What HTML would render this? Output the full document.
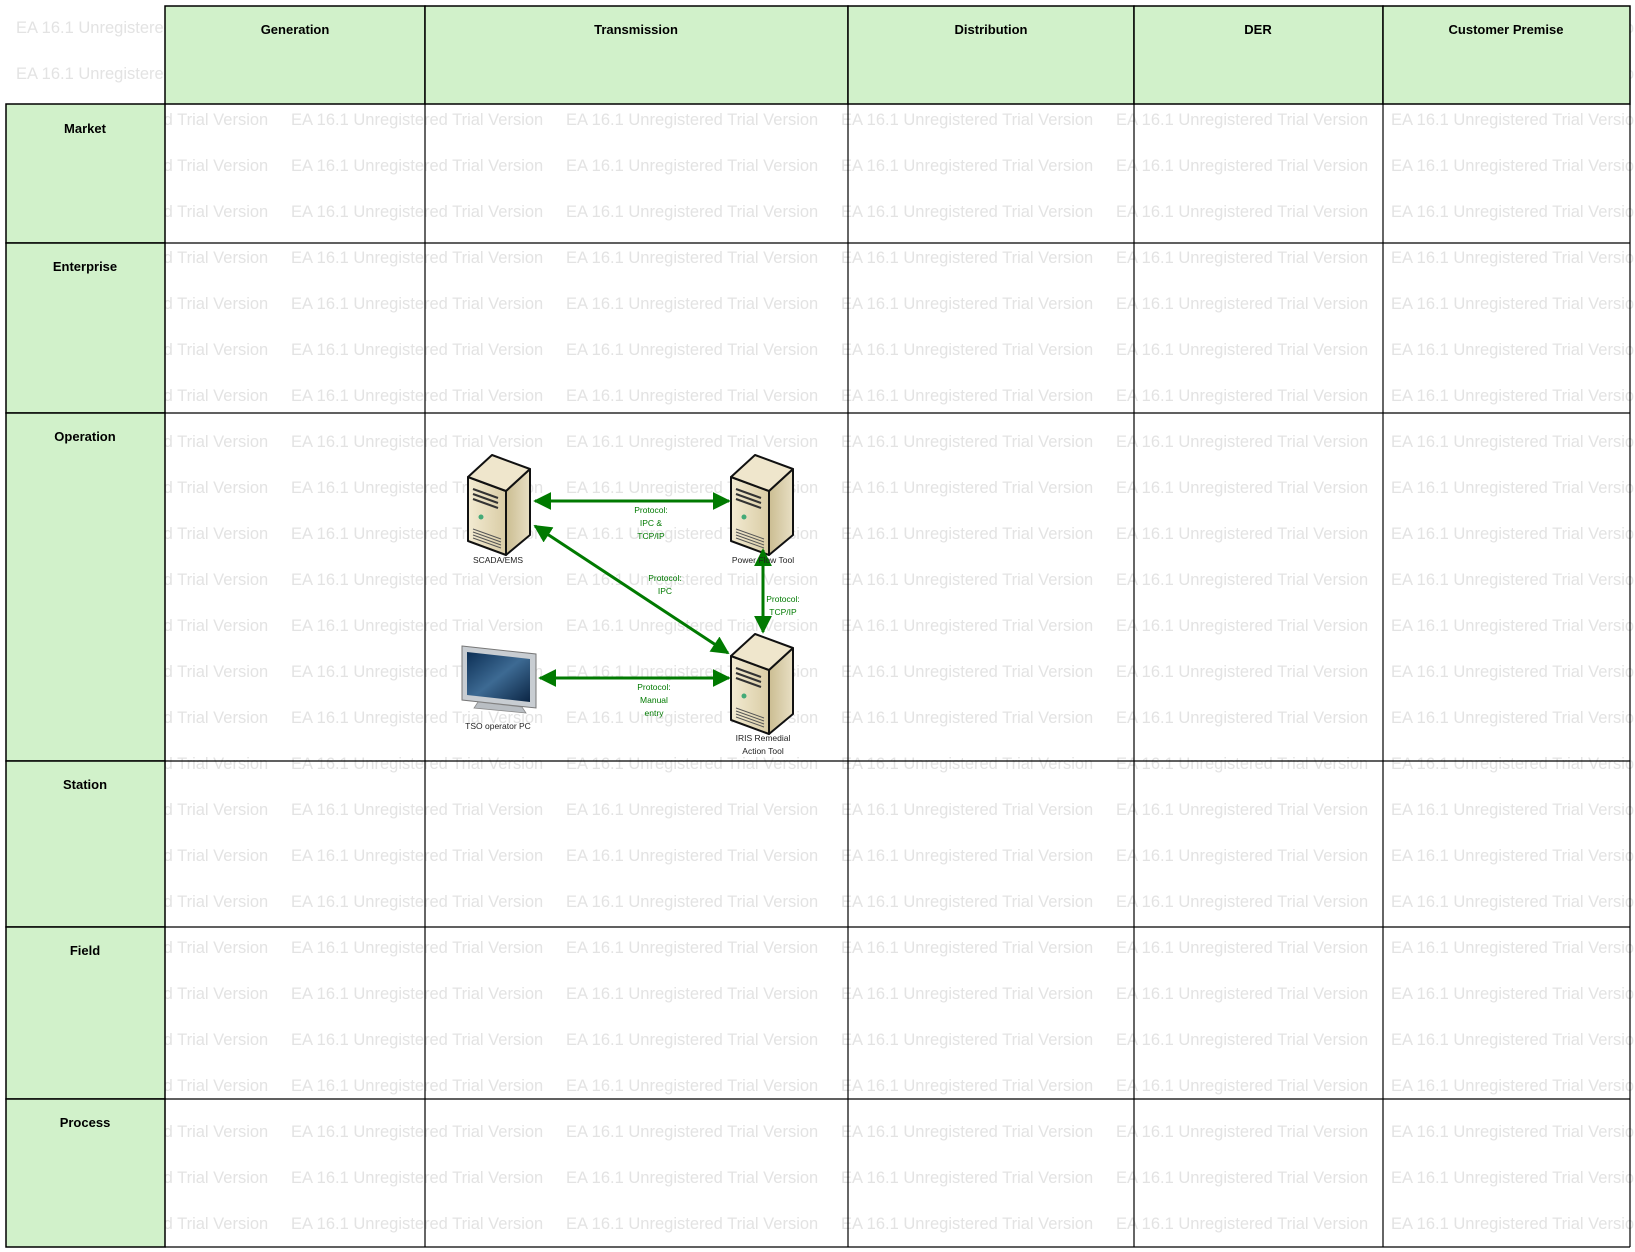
<!DOCTYPE html>
<html><head><meta charset="utf-8"><style>
html,body{margin:0;padding:0;background:#fff;}
svg{display:block;}
</style></head><body>
<svg width="1635" height="1252" xmlns="http://www.w3.org/2000/svg" font-family="Liberation Sans, sans-serif">
<defs>
<pattern id="wmp" patternUnits="userSpaceOnUse" x="16" y="0" width="275" height="46">
<text x="0" y="33" fill="#e3e3e3" font-size="16.5" font-family="Liberation Sans, sans-serif">EA 16.1 Unregistered Trial Version</text>
</pattern>
<linearGradient id="fr" x1="0" y1="0" x2="1" y2="0"><stop offset="0" stop-color="#f3ebd2"/><stop offset="1" stop-color="#d9cca5"/></linearGradient>
<linearGradient id="sd" x1="0" y1="0" x2="1" y2="0"><stop offset="0" stop-color="#cbbd92"/><stop offset="1" stop-color="#e8dfc3"/></linearGradient>
<linearGradient id="scr" x1="0" y1="0" x2="1" y2="1"><stop offset="0" stop-color="#0c2f55"/><stop offset="0.5" stop-color="#3d6a93"/><stop offset="1" stop-color="#0b2544"/></linearGradient>
<g id="srv">
<polygon points="0,22 38,36 38,100 0,86" fill="url(#fr)" stroke="#111" stroke-width="2" stroke-linejoin="round"/>
<polygon points="38,36 62,14 62,80 38,100" fill="url(#sd)" stroke="#111" stroke-width="2" stroke-linejoin="round"/>
<polygon points="0,22 24,0 62,14 38,36" fill="#efe6cc" stroke="#111" stroke-width="2" stroke-linejoin="round"/>
<path d="M5,34 L30,43 M5,39 L30,48 M5,44 L30,53" stroke="#333" stroke-width="2"/>
<circle cx="13" cy="62" r="2.5" fill="#4a7"/>
<path d="M5,74 L33,84 M5,77 L33,87 M5,80 L33,90 M5,83 L33,93" stroke="#555" stroke-width="1"/>
</g>
<marker id="ah" viewBox="0 0 10 10" refX="9" refY="5" markerWidth="6" markerHeight="6" orient="auto-start-reverse"><path d="M0,0 L10,5 L0,10 Z" fill="#007a00"/></marker>
</defs>
<rect x="0" y="0" width="1635" height="1252" fill="url(#wmp)"/>
<g fill="#d1f1ca" stroke="#000" stroke-width="1.5">
<rect x="165" y="6" width="260" height="98"/>
<rect x="425" y="6" width="423" height="98"/>
<rect x="848" y="6" width="286" height="98"/>
<rect x="1134" y="6" width="249" height="98"/>
<rect x="1383" y="6" width="247" height="98"/>
<rect x="6" y="104" width="159" height="139"/>
<rect x="6" y="243" width="159" height="170"/>
<rect x="6" y="413" width="159" height="348"/>
<rect x="6" y="761" width="159" height="166"/>
<rect x="6" y="927" width="159" height="172"/>
<rect x="6" y="1099" width="159" height="148"/>
</g>
<g fill="none" stroke="#000" stroke-width="1.2">
<path d="M165,243H1630M165,413H1630M165,761H1630M165,927H1630M165,1099H1630M165,1247H1630M1630,104V1247M425,104V1247M848,104V1247M1134,104V1247M1383,104V1247"/>
</g>
<g font-size="13" font-weight="bold" text-anchor="middle" fill="#000">
<text x="295" y="34">Generation</text>
<text x="636" y="34">Transmission</text>
<text x="991" y="34">Distribution</text>
<text x="1258" y="34">DER</text>
<text x="1506" y="34">Customer Premise</text>
<text x="85" y="133">Market</text>
<text x="85" y="271">Enterprise</text>
<text x="85" y="441">Operation</text>
<text x="85" y="789">Station</text>
<text x="85" y="955">Field</text>
<text x="85" y="1127">Process</text>
</g>
<use href="#srv" x="468" y="455"/>
<use href="#srv" x="731" y="455"/>
<use href="#srv" x="731" y="634"/>
<g>
<polygon points="462,646 536,654 536,708 462,700" fill="#c8cdd2" stroke="#777" stroke-width="1"/>
<polygon points="467,652 530,659 530,702 467,695" fill="url(#scr)"/>
<polygon points="478,702 522,707 526,713 474,708" fill="#b9bec3" stroke="#888" stroke-width="0.8"/>
</g>
<g stroke="#007a00" stroke-width="3" fill="none" marker-start="url(#ah)" marker-end="url(#ah)">
<line x1="535" y1="501" x2="729" y2="501"/>
<line x1="535" y1="526" x2="728" y2="653"/>
<line x1="763" y1="550" x2="763" y2="632"/>
<line x1="540" y1="678" x2="729" y2="678"/>
</g>
<g font-size="8.5" fill="#007a00" text-anchor="middle">
<text x="651" y="513">Protocol:</text><text x="651" y="526">IPC &amp;</text><text x="651" y="539">TCP/IP</text>
<text x="665" y="581">Protocol:</text><text x="665" y="594">IPC</text>
<text x="783" y="602">Protocol:</text><text x="783" y="615">TCP/IP</text>
<text x="654" y="690">Protocol:</text><text x="654" y="703">Manual</text><text x="654" y="716">entry</text>
</g>
<g font-size="8.5" fill="#222" text-anchor="middle">
<text x="498" y="563">SCADA/EMS</text>
<text x="763" y="563">Power Flow Tool</text>
<text x="763" y="741">IRIS Remedial</text>
<text x="763" y="754">Action Tool</text>
<text x="498" y="729">TSO operator PC</text>
</g>
</svg>
</body></html>
